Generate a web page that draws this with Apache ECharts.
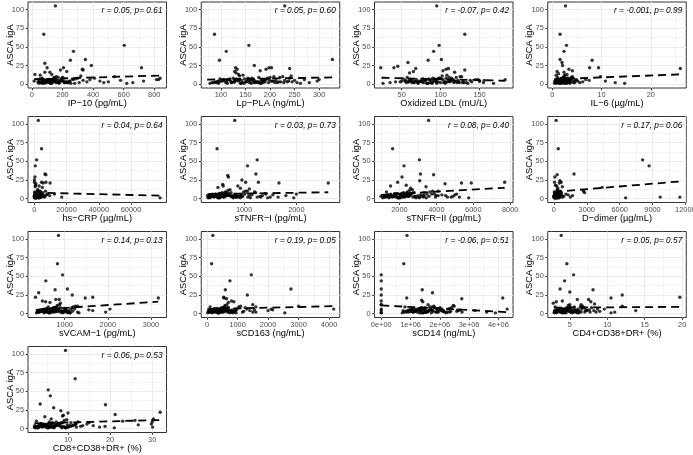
<!DOCTYPE html>
<html><head><meta charset="utf-8">
<script src="https://cdn.jsdelivr.net/npm/echarts@6/dist/echarts.min.js"></script>
<style>html,body{margin:0;padding:0;background:#fff}#c{width:693px;height:455px}</style>
</head><body><div id="c"></div>
<script>
// ---------- shared ----------
const yName = 'ASCA igA';
const yTicks = [0, 25, 50, 75, 100];
const yRange = [-5.25, 110.25];

// ASCA igA of the low-value patients (shared by every panel)
const lowAsca = [
  1,2,3,4,5,6,2,3,4,5,
  7,8,1,2,3,4,6,9,10,2,
  3,5,4,3,2,1,6,7,8,11,
  12,3,4,5,2,1,3,6,4,5,
  9,2,3,4,7,1,2,5,3,6,
  8,4,2,3,10,5,1,2,4,6,
  3,7,2,4,5,3,1,8,2,6,
  2,4,6,3,5,1,7,2,9,4,
  3,5,2,6,1,4,8,3,5,2,
  4,1,3,6,2,5,7,3,2,4
];

const xNames = ['IP\u221210 (pg/mL)','Lp\u2212PLA (ng/mL)','Oxidized LDL (mU/L)','IL\u22126 (\u00b5g/mL)',
  'hs\u2212CRP (\u00b5g/mL)','sTNFR\u2212I (pg/mL)','sTNFR\u2212II (pg/mL)','D\u2212dimer (\u00b5g/mL)',
  'sVCAM\u22121 (pg/mL)','sCD163 (ng/mL)','sCD14 (ng/mL)','CD4+CD38+DR+ (%)','CD8+CD38+DR+ (%)'];

const xRanges = [[-25,880],[60,342],[15,193],[-0.9,27.2],[-3900,82000],[180,2830],[650,8150],
  [-560,12080],[150,3360],[-190,4350],[-230000,4500000],[2.05,20.55],[0.5,33.4]];

const xTicks = [[0,200,400,600,800],[100,150,200,250,300],[50,100,150],[0,10,20],
  [0,20000,40000,60000],[1000,2000],[2000,4000,6000,8000],[0,3000,6000,9000,12000],
  [1000,2000,3000],[0,1000,2000,3000,4000],[0,1000000,2000000,3000000,4000000],[5,10,15,20],[10,20,30]];

const statLabels = ['r = 0.05, p= 0.61','r = 0.05, p= 0.60','r = -0.07, p= 0.42','r = -0.001, p= 0.99',
  'r = 0.04, p= 0.64','r = 0.03, p= 0.73','r = 0.08, p= 0.40','r = 0.17, p= 0.06',
  'r = 0.14, p= 0.13','r = 0.19, p= 0.05','r = -0.06, p= 0.51','r = 0.05, p= 0.57','r = 0.06, p= 0.53'];

// fitted line end points [x, y]
const fitLines = [
  [[15,6.5],[840,11.5]], [[72,6],[327,9]], [[24,8.5],[183,4.5]], [[0.4,6.5],[26,13]],
  [[100,8],[78000,4]], [[300,6],[2610,8.5]], [[1000,5],[7700,14.5]], [[20,9],[11500,23]],
  [[330,5],[3170,16]], [[10,6],[4150,10]], [[0,11],[4300000,2]], [[2.9,8],[19.7,9]], [[2,7],[31.9,11.5]]
];

// ---------- per-panel x of low patients + high points ----------
const ip10X = [45,60,72,85,95,110,120,135,150,165, 52,68,80,92,105,118,130,145,160,175,
  185,195,210,225,240,255,270,285,300,320, 55,75,90,100,115,128,140,155,170,190,
  200,215,230,250,265,280,310,335,360,380, 410,445,470,500,540,580,620,660,730,815,
  40,65,88,102,125,148,178,205,235,828,
  58,70,82,97,112,126,142,158,172,198, 62,76,94,108,122,138,152,168,182,212,
  48,66,84,98,116,132,146,162,220,245];
const ip10Hi = [[154,105],[78,67],[604,52],[272,44],[350,33],[252,32],[85,28],[389,25],[207,22],[717,22],
  [100,22],[330,20],[187,19],[335,19],[228,17],[85,16],[118,16],[20,13],[130,13],[838,8],[15,4]];

const lppla = [78,85,92,100,108,115,122,128,135,142, 148,155,162,170,178,185,192,200,208,215,
  222,230,238,245,82,95,105,118,125,138, 145,152,160,168,175,182,190,198,205,212,
  220,228,235,112,132,140,158,165,172,188, 195,202,210,218,226,250,262,280,296,300,
  88,98,110,120,130,150,180,240,255,270,
  90,103,117,127,137,147,157,167,177,187, 96,107,121,131,141,153,163,173,183,197,
  94,113,126,136,144,156,166,176,186,207];
const lpplaHi = [[230,105],[87,67],[157,52],[111,44],[327,33],[97,32],[168,25],[198,22],[203,22],[240,21],
  [130,22],[133,20],[192,20],[180,18],[128,17],[131,15],[136,13],[243,11]];

const oxldl = [26,35,42,50,55,60,65,70,75,80, 85,90,95,100,105,110,115,120,125,130,
  58,62,68,72,78,82,88,92,98,102, 108,112,118,122,128,135,140,145,150,156,
  57,63,67,73,77,83,87,93,97,103, 107,113,117,123,127,138,168,155,150,183,
  48,52,66,74,86,94,106,114,133,148,
  56,61,69,76,81,89,96,104,111,119, 59,64,71,79,84,91,99,106,116,124,
  54,71,76,81,89,94,101,109,121,129];
const oxldlHi = [[95,105],[131,67],[98,52],[91,44],[101,33],[84,32],[58,29],[45,24],[40,22],[23,22],
  [68,21],[107,20],[110,21],[131,19],[103,18],[65,17],[118,16],[60,15]];

const il6 = [0.5,0.7,0.9,1.1,1.3,1.5,1.7,1.9,2.1,2.3, 2.5,2.7,2.9,3.1,3.3,3.5,3.7,3.9,4.1,4.3,
  0.6,0.8,1.0,1.2,1.4,1.6,1.8,2.0,2.2,2.4, 2.6,2.8,3.0,3.2,3.4,3.6,3.8,4.0,4.4,4.8,
  1.05,1.25,1.45,1.65,1.85,2.05,2.25,2.45,2.65,2.85, 3.05,5.2,5.6,6.2,9.8,7.5,14.7,12.8,10.8,4.9,
  1.15,1.35,1.55,1.75,1.95,2.15,2.55,3.25,4.6,6.8,
  0.65,0.85,1.05,1.2,1.4,1.6,1.8,2.0,2.3,2.6, 0.75,0.95,1.15,1.3,1.5,1.7,1.9,2.2,2.5,2.9,
  0.55,0.9,1.1,1.35,1.55,1.75,2.05,2.35,2.75,3.3];
const il6Hi = [[2.7,105],[1.6,67],[2.9,52],[2.4,44],[1.6,33],[8.1,32],[2.0,29],[2.1,25],[7.6,22],[9.4,22],
  [26,21],[3.4,20],[4.1,18],[1.0,17],[2.4,16],[1.3,14],[3.0,13],[0.8,12]];

const hscrp = [100,300,500,700,900,1100,1300,1500,1700,1900, 2100,2300,2500,2700,2900,3100,3300,3500,3700,3900,
  200,400,600,800,1000,1200,1400,1600,1800,2000, 2200,2400,2600,2800,3000,3400,3800,4200,4600,5000,
  150,350,550,750,950,1150,1350,1550,1750,2050, 5400,5800,6200,6600,7000,7500,78000,17000,9500,12500,
  250,450,650,1250,1650,2250,2750,3250,4400,8200,
  120,320,520,720,920,1120,1320,1720,2320,2920, 180,380,580,780,980,1180,1480,1980,2480,3480,
  60,260,460,660,860,1060,1260,1860,2660,4200];
const hscrpHi = [[2470,105],[4500,67],[1440,52],[620,44],[6600,33],[7200,32],[400,29],[100,25],[100,22],[4500,22],
  [5500,21],[7200,22],[9800,21],[1000,20],[800,18],[3000,17],[600,16],[5000,15]];

const stnfr1 = [310,350,390,430,470,510,550,590,630,670, 710,750,790,830,870,910,950,990,1030,1070,
  330,370,410,450,490,530,570,610,650,690, 730,770,810,850,890,930,970,1010,1100,1150,
  1200,1250,1300,1350,1400,1450,1500,360,460,560, 660,760,860,960,1060,1550,1950,1650,1800,2000,
  420,520,620,720,820,920,1120,1220,1320,1420,
  320,360,400,440,480,520,560,600,640,680, 340,380,420,460,500,540,580,640,700,780,
  300,345,395,445,495,545,595,745,845,945];
const stnfr1Hi = [[821,105],[482,67],[1250,52],[1065,44],[1226,33],[685,31],[700,29],[958,25],[1030,22],[1274,22],
  [1667,21],[2610,21],[590,19],[600,17],[880,17],[930,14],[1100,13],[500,15]];

const stnfr2 = [1100,1250,1400,1550,1700,1850,2000,2150,2300,2450, 2600,2750,2900,3050,3200,3350,3500,3650,3800,3950,
  1200,1350,1500,1650,1800,1950,2100,2250,2400,2550, 2700,2850,3000,3150,3300,3450,3600,3750,4100,4300,
  1300,1450,1600,1750,1900,2050,2200,2350,2500,2650, 2800,4000,4600,4900,4100,5000,5750,5250,4500,3900,
  1150,1750,2080,2330,2580,2830,3080,3330,4800,5100,
  1220,1380,1530,1680,1830,1980,2130,2280,2430,2580, 1320,1470,1620,1770,1920,2070,2220,2370,2520,2730,
  1280,1430,1580,1730,1880,2030,2180,2480,2880,3280];
const stnfr2Hi = [[3580,105],[1630,67],[3080,52],[2250,44],[3140,33],[3850,32],[2140,29],[3100,24],[1900,22],[5360,21],
  [5890,21],[7700,22],[4470,20],[2370,18],[1520,17],[3440,16],[2600,14],[1000,3]];

const ddimer = [20,50,80,110,140,170,200,230,260,290, 320,350,380,410,440,470,500,530,560,590,
  30,60,90,120,150,180,210,240,270,300, 330,360,390,420,450,480,510,540,600,650,
  40,70,100,130,160,190,220,250,280,310, 700,750,800,900,2700,1300,6550,1500,1700,1100,
  35,85,135,185,235,285,335,385,9700,450,
  25,55,95,125,165,195,225,265,305,345, 45,75,115,145,175,215,245,275,315,365,
  15,65,105,155,205,255,295,325,375,425];
const ddimerHi = [[210,105],[400,67],[8100,52],[8690,44],[1840,33],[300,32],[90,29],[550,24],[60,22],[670,22],
  [500,21],[770,16],[4400,15],[2800,8],[11500,2],[150,18],[250,17],[350,14]];

const svcam = [350,400,450,500,550,600,650,700,750,800, 850,900,950,1000,1050,1100,1150,1200,1250,1300,
  380,430,480,530,580,630,680,730,780,830, 880,930,980,1030,1080,1130,1180,1230,420,520,
  620,720,820,920,1020,1120,360,460,560,660, 760,860,960,1060,1300,1560,1330,1950,1650,2050,
  470,570,670,770,870,970,1070,1170,610,710,
  410,460,510,560,610,660,710,760,810,860, 440,490,540,590,640,690,740,790,840,890,
  470,520,570,620,670,720,770,820,940,1010];
const svcamHi = [[857,105],[833,67],[952,52],[563,44],[1063,33],[778,32],[397,28],[1175,25],[325,22],[1650,22],
  [1476,21],[3170,21],[794,19],[873,19],[484,17],[560,16],[660,15],[900,14]];

const scd163 = [20,80,140,200,260,320,380,440,500,560, 620,680,740,800,860,920,980,1040,1100,1160,
  50,110,170,230,290,350,410,470,530,590, 650,710,770,830,890,950,1200,1300,1400,1550,
  100,160,220,280,340,400,460,520,580,640, 700,760,820,880,3000,2150,2550,1500,2000,2100,
  130,250,370,490,610,730,850,1250,1600,4150,
  90,150,210,270,330,390,450,510,570,630, 120,180,240,300,360,420,480,540,600,660,
  60,170,290,410,530,650,690,720,780,940];
const scd163Hi = [[190,105],[150,67],[1450,52],[750,44],[2750,33],[600,32],[1320,25],[545,22],[560,21],[640,20],
  [880,16],[800,17],[700,15],[1500,12],[1600,9]];

const scd14 = [7.2e5,7.8e5,8.4e5,9e5,9.6e5,1.02e6,1.08e6,1.14e6,1.2e6,1.26e6,
  1.32e6,1.38e6,1.44e6,1.5e6,1.56e6,1.62e6,1.68e6,1.74e6,1.8e6,1.86e6,
  1.92e6,1.98e6,2.04e6,2.1e6,2.16e6,2.22e6,2.28e6,2.34e6,2.4e6,2.46e6,
  0,2.58e6,2.64e6,2.7e6,2.76e6,0,1.0e6,0,1.3e6,1.5e6,
  8.1e5,9.3e5,1.05e6,1.17e6,1.29e6,1.41e6,1.53e6,1.65e6,1.77e6,1.89e6,
  2.01e6,2.13e6,2.25e6,2.37e6,2.49e6,2.61e6,3.9e6,3.6e6,3.2e6,4.3e6,
  9.9e5,1.11e6,1.23e6,1.35e6,1.47e6,1.59e6,1.71e6,1.83e6,1.95e6,2.07e6,
  8.5e5,9.5e5,1.06e6,1.16e6,1.26e6,1.36e6,1.46e6,1.56e6,1.66e6,1.76e6,
  9.0e5,1.0e6,1.1e6,1.2e6,1.3e6,1.4e6,1.5e6,1.6e6,1.7e6,1.9e6,
  7.5e5,0,1.13e6,1.33e6,1.53e6,1.73e6,1.93e6,2.13e6,2.33e6,0];
const scd14Hi = [[8.8e5,105],[7.7e5,67],[0,52],[0,44],[0,33],[1.4e6,32],[1.75e6,28],[0,25],[8.7e5,21],[4.15e6,21],
  [2.75e6,20],[1.38e6,18],[0,17],[1.42e6,16],[0,12],[1.6e6,12]];

const cd4 = [2.9,3.1,3.3,3.5,3.7,3.9,4.1,4.3,4.5,4.7, 4.9,5.1,5.3,5.5,5.7,5.9,6.1,6.4,6.7,7.0,
  3.0,3.2,3.4,3.6,3.8,4.0,4.2,4.4,4.6,4.8, 5.0,5.2,5.4,5.6,5.8,6.0,6.3,6.6,7.3,7.6,
  3.05,3.25,3.45,3.65,3.85,4.05,4.25,4.55,4.85,5.15, 7.9,8.2,8.5,9.0,12.0,7.2,10.5,11.0,13.8,9.6,
  3.15,3.55,3.95,4.35,4.75,5.45,6.2,6.9,7.7,8.7,
  3.0,3.3,3.6,3.9,4.2,4.5,4.8,5.1,5.6,6.1, 3.1,3.4,3.7,4.0,4.3,4.6,4.9,5.3,5.8,6.5,
  2.95,3.2,3.5,3.8,4.1,4.4,4.7,5.0,5.4,7.1];
const cd4Hi = [[3.85,105],[4.6,67],[5.5,52],[4.3,44],[3.7,33],[8.1,32],[5.0,29],[6.0,19],[7.5,19],[7.8,16],
  [3.2,16],[4.0,17],[10.5,21],[12,25],[19.7,22],[8.3,13],[2.8,14],[6.5,12]];

const cd8 = [2.2,2.8,3.4,4.0,4.6,5.2,5.8,6.4,7.0,7.6, 8.2,8.8,9.4,10.0,10.6,11.2,11.8,12.4,2.5,3.1,
  3.7,4.3,4.9,5.5,6.1,6.7,7.3,7.9,8.5,9.1, 9.7,10.3,10.9,11.5,2.0,2.6,3.2,3.8,4.4,5.0,
  5.6,6.2,6.8,7.4,8.0,8.6,9.2,9.8,13.0,14.5, 15.0,16.0,17.5,18.8,23.0,26.7,21.0,12.0,13.5,29.8,
  2.3,3.6,4.7,5.9,7.1,8.3,9.5,10.7,30.1,11.9,
  2.4,3.0,3.6,4.2,4.8,5.4,6.0,6.6,7.2,7.8, 2.7,3.3,3.9,4.5,5.1,5.7,6.3,6.9,7.5,8.4,
  2.1,2.9,3.5,4.1,5.3,6.5,7.7,8.9,9.9,10.4];
const cd8Hi = [[9.4,105],[11.7,67],[5.3,52],[5.8,44],[3.4,33],[18.9,32],[6.6,28],[8.3,24],[10.0,21],[31.9,22],
  [21.2,19],[8.9,18],[8.7,17],[4.5,16],[30.3,13],[30.0,9],[25.9,11],[6.0,13]];

const lowX = [ip10X, lppla, oxldl, il6, hscrp, stnfr1, stnfr2, ddimer, svcam, scd163, scd14, cd4, cd8];
const highPts = [ip10Hi, lpplaHi, oxldlHi, il6Hi, hscrpHi, stnfr1Hi, stnfr2Hi, ddimerHi, svcamHi, scd163Hi, scd14Hi, cd4Hi, cd8Hi];

// ---------- layout / style ----------
const F = 'Liberation Sans, Arial, sans-serif';
const rowTop = [2, 116.5, 231.5, 346.5];
const plotH = 86, plotW = 138.5, colW = 173.25, leftOff = 28;

function minors(t, r) {
  const s = t.length > 1 ? t[1] - t[0] : 1;
  const out = [t[0] - s / 2];
  for (let k = 0; k < t.length - 1; k++) out.push((t[k] + t[k + 1]) / 2);
  out.push(t[t.length - 1] + s / 2);
  return out.filter(v => v > r[0] && v < r[1]);
}
function fmt(i) {
  if (i === 10) return v => v === 0 ? '0e+00' : (v / 1e6) + 'e+06';
  return v => String(v);
}

const grids = [], xAxes = [], yAxes = [], series = [], titles = [];
for (let i = 0; i < 13; i++) {
  const col = i % 4, row = Math.floor(i / 4);
  const left = leftOff + col * colW, top = rowTop[row];
  grids.push({ left, top, width: plotW, height: plotH, show: true, backgroundColor: '#fff',
    borderColor: '#333333', borderWidth: 1, containLabel: false, outerBoundsMode: 'none' });
  const xr = xRanges[i];
  xAxes.push({ gridIndex: i, type: 'value', min: xr[0], max: xr[1],
    axisLine: { show: false, onZero: false },
    axisTick: { show: true, customValues: xTicks[i], length: 2.3, lineStyle: { color: '#333', width: 1 } },
    axisLabel: { customValues: xTicks[i], formatter: fmt(i), fontSize: 7.4, color: '#4d4d4d', margin: 3.5, fontFamily: F },
    splitLine: { show: false },
    name: xNames[i], nameLocation: 'middle', nameGap: 8,
    nameTextStyle: { fontSize: 9.3, color: '#000', fontFamily: F } });
  yAxes.push({ gridIndex: i, type: 'value', min: yRange[0], max: yRange[1],
    axisLine: { show: false, onZero: false },
    axisTick: { show: true, customValues: yTicks, length: 2.3, lineStyle: { color: '#333', width: 1 } },
    axisLabel: { customValues: yTicks, formatter: v => String(v), fontSize: 7.4, color: '#4d4d4d', margin: 4, fontFamily: F },
    splitLine: { show: false },
    name: yName, nameLocation: 'middle', nameGap: 13.5, nameMoveOverlap: false,
    nameTextStyle: { fontSize: 9.3, color: '#000', fontFamily: F } });

  // grid lines through the axis scales
  const majorData = [], minorData = [];
  xTicks[i].forEach(v => majorData.push({ coords: [[v, yRange[0]], [v, yRange[1]]] }));
  yTicks.forEach(v => majorData.push({ coords: [[xr[0], v], [xr[1], v]] }));
  minors(xTicks[i], xr).forEach(v => minorData.push({ coords: [[v, yRange[0]], [v, yRange[1]]] }));
  minors(yTicks, yRange).forEach(v => minorData.push({ coords: [[xr[0], v], [xr[1], v]] }));
  series.push({ type: 'lines', coordinateSystem: 'cartesian2d', xAxisIndex: i, yAxisIndex: i, silent: true, z: 1,
    lineStyle: { color: '#ebebeb', width: 0.55, opacity: 1 }, data: minorData });
  series.push({ type: 'lines', coordinateSystem: 'cartesian2d', xAxisIndex: i, yAxisIndex: i, silent: true, z: 1,
    lineStyle: { color: '#ebebeb', width: 1.1, opacity: 1 }, data: majorData });

  const pts = highPts[i].concat(lowX[i].map((x, k) => [x, lowAsca[k]]));
  series.push({ type: 'scatter', xAxisIndex: i, yAxisIndex: i, data: pts, symbol: 'circle', symbolSize: 3.4,
    itemStyle: { color: '#000' }, silent: true, z: 2 });
  series.push({ type: 'line', xAxisIndex: i, yAxisIndex: i, data: fitLines[i], symbol: 'none', showSymbol: false,
    lineStyle: { color: '#000', width: 1.8, type: [8, 5] }, silent: true, z: 3 });

  titles.push({ text: statLabels[i], right: 693 - (left + plotW) + 4, top: top + 5, padding: 0,
    textStyle: { fontSize: 8.3, fontStyle: 'italic', fontWeight: 'normal', color: '#000', fontFamily: F } });
}

const chart = echarts.init(document.getElementById('c'), null, { renderer: 'canvas' });
chart.setOption({ animation: false, backgroundColor: '#fff', title: titles, grid: grids,
  xAxis: xAxes, yAxis: yAxes, series });
</script></body></html>
